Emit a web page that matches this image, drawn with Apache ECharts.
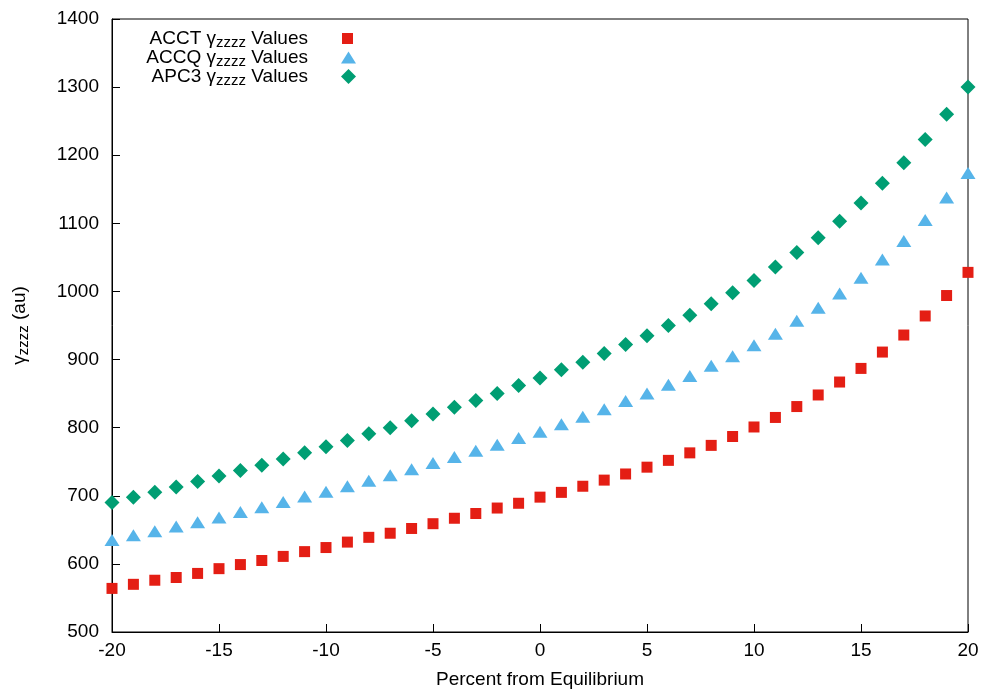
<!DOCTYPE html>
<html>
<head>
<meta charset="utf-8">
<script src="https://cdn.jsdelivr.net/npm/echarts@6/dist/echarts.min.js"></script>
<style>html,body{margin:0;padding:0;background:#fff}#c{width:984px;height:694px}</style>
</head>
<body>
<div id="c"></div>
<script>
const percent = [-20,-19,-18,-17,-16,-15,-14,-13,-12,-11,-10,-9,-8,-7,-6,-5,-4,-3,-2,-1,0,1,2,3,4,5,6,7,8,9,10,11,12,13,14,15,16,17,18,19,20];
const acct = [564,570,576,580,586,593,599,605,611,618,624,632,639,645,652,659,667,674,682,689,698,705,714,723,732,742,752,763,774,787,801,815,831,848,867,887,911,936,964,994,1028];
const accq = [635,642,648,655,661,668,676,683,691,699,706,714,722,730,739,748,757,766,775,785,794,805,816,827,839,850,863,876,891,905,921,938,957,976,997,1020,1047,1074,1105,1138,1174];
const apc3 = [690,698,705,713,721,729,737,745,754,763,772,781,791,800,810,820,830,840,850,862,873,885,896,909,922,935,950,965,982,998,1016,1036,1057,1079,1103,1130,1159,1189,1223,1260,1300];
const seriesNames = ['ACCT', 'ACCQ', 'APC3'];
const xTicks = {min: -20, max: 20, interval: 5};
const yTicks = {min: 500, max: 1400, interval: 100};

const FONT = 'Liberation Sans';
const FS = 19;
const SUB = 15;
const zip = (xs, ys) => xs.map((x, i) => [x, ys[i]]);
const chart = echarts.init(document.getElementById('c'));

function legendFor(name, top, right, w, h, gap) {
  return {
    data: [name],
    right: right,
    top: top,
    orient: 'vertical',
    align: 'right',
    itemWidth: w,
    itemHeight: h,
    selectedMode: false,
    padding: 0,
    formatter: function (n) { return '{t|' + n + ' γ}{s|zzzz}{t| Values}{g|}'; },
    textStyle: {
      fontFamily: FONT, fontSize: FS, color: '#000',
      rich: {
        t: {fontFamily: FONT, fontSize: FS, color: '#000', lineHeight: 20},
        s: {fontFamily: FONT, fontSize: SUB, color: '#000', padding: [8, 0, 0, 0], lineHeight: 20},
        g: {width: gap}
      }
    }
  };
}

chart.setOption({
  animation: false,
  backgroundColor: '#fff',
  grid: {left: 112, right: 16, top: 19, bottom: 62, show: true, borderColor: '#000', borderWidth: 1},
  legend: [
    legendFor(seriesNames[0], 27, 631, 11, 11, 29),
    legendFor(seriesNames[1], 46, 628, 15, 12, 28),
    legendFor(seriesNames[2], 65, 628, 15, 15, 28)
  ],
  xAxis: {
    type: 'value', min: xTicks.min, max: xTicks.max, interval: xTicks.interval,
    name: 'Percent from Equilibrium', nameLocation: 'middle', nameGap: 38,
    nameTextStyle: {fontFamily: FONT, fontSize: FS, color: '#000'},
    axisLine: {onZero: false, lineStyle: {color: '#000', width: 1}},
    axisTick: {inside: true, length: 8, lineStyle: {color: '#000'}},
    axisLabel: {fontFamily: FONT, fontSize: FS, color: '#000', margin: 9, formatter: v => String(v)},
    splitLine: {show: false}
  },
  yAxis: {
    type: 'value', min: yTicks.min, max: yTicks.max, interval: yTicks.interval,
    name: '{t|γ}{s|zzzz}{t| (au)}', nameLocation: 'middle', nameGap: 82,
    nameTextStyle: {
      fontFamily: FONT, fontSize: FS, color: '#000',
      rich: {
        t: {fontFamily: FONT, fontSize: FS, color: '#000', lineHeight: 20},
        s: {fontFamily: FONT, fontSize: SUB, color: '#000', padding: [8, 0, 0, 0], lineHeight: 20}
      }
    },
    axisLine: {onZero: false, lineStyle: {color: '#000', width: 1}},
    axisTick: {inside: true, length: 8, lineStyle: {color: '#000'}},
    axisLabel: {fontFamily: FONT, fontSize: FS, color: '#000', margin: 13, formatter: v => String(v)},
    splitLine: {show: false}
  },
  series: [
    {name: seriesNames[0], type: 'scatter', symbol: 'rect', symbolSize: 11,
     itemStyle: {color: '#e41e14', opacity: 1}, data: zip(percent, acct)},
    {name: seriesNames[1], type: 'scatter', symbol: 'triangle', symbolSize: [15, 12],
     itemStyle: {color: '#56b4e9', opacity: 1}, data: zip(percent, accq)},
    {name: seriesNames[2], type: 'scatter', symbol: 'diamond', symbolSize: [15, 15],
     itemStyle: {color: '#009e73', opacity: 1}, data: zip(percent, apc3)}
  ]
});
</script>
</body>
</html>
